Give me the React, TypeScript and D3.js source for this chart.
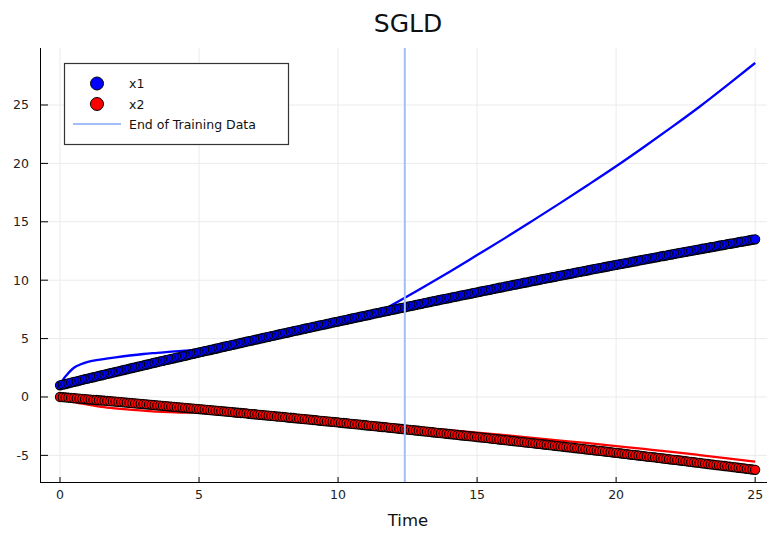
import React, { useRef, useEffect } from 'react';
import * as d3 from 'd3';

// observation times (scatter)
const obsTime = [
  0, 0.1, 0.2, 0.3, 0.4, 0.5, 0.6, 0.7, 0.8, 0.9,
  1, 1.1, 1.2, 1.3, 1.4, 1.5, 1.6, 1.7, 1.8, 1.9,
  2, 2.1, 2.2, 2.3, 2.4, 2.5, 2.6, 2.7, 2.8, 2.9,
  3, 3.1, 3.2, 3.3, 3.4, 3.5, 3.6, 3.7, 3.8, 3.9,
  4, 4.1, 4.2, 4.3, 4.4, 4.5, 4.6, 4.7, 4.8, 4.9,
  5, 5.1, 5.2, 5.3, 5.4, 5.5, 5.6, 5.7, 5.8, 5.9,
  6, 6.1, 6.2, 6.3, 6.4, 6.5, 6.6, 6.7, 6.8, 6.9,
  7, 7.1, 7.2, 7.3, 7.4, 7.5, 7.6, 7.7, 7.8, 7.9,
  8, 8.1, 8.2, 8.3, 8.4, 8.5, 8.6, 8.7, 8.8, 8.9,
  9, 9.1, 9.2, 9.3, 9.4, 9.5, 9.6, 9.7, 9.8, 9.9,
  10, 10.1, 10.2, 10.3, 10.4, 10.5, 10.6, 10.7, 10.8, 10.9,
  11, 11.1, 11.2, 11.3, 11.4, 11.5, 11.6, 11.7, 11.8, 11.9,
  12, 12.1, 12.2, 12.3, 12.4, 12.5, 12.6, 12.7, 12.8, 12.9,
  13, 13.1, 13.2, 13.3, 13.4, 13.5, 13.6, 13.7, 13.8, 13.9,
  14, 14.1, 14.2, 14.3, 14.4, 14.5, 14.6, 14.7, 14.8, 14.9,
  15, 15.1, 15.2, 15.3, 15.4, 15.5, 15.6, 15.7, 15.8, 15.9,
  16, 16.1, 16.2, 16.3, 16.4, 16.5, 16.6, 16.7, 16.8, 16.9,
  17, 17.1, 17.2, 17.3, 17.4, 17.5, 17.6, 17.7, 17.8, 17.9,
  18, 18.1, 18.2, 18.3, 18.4, 18.5, 18.6, 18.7, 18.8, 18.9,
  19, 19.1, 19.2, 19.3, 19.4, 19.5, 19.6, 19.7, 19.8, 19.9,
  20, 20.1, 20.2, 20.3, 20.4, 20.5, 20.6, 20.7, 20.8, 20.9,
  21, 21.1, 21.2, 21.3, 21.4, 21.5, 21.6, 21.7, 21.8, 21.9,
  22, 22.1, 22.2, 22.3, 22.4, 22.5, 22.6, 22.7, 22.8, 22.9,
  23, 23.1, 23.2, 23.3, 23.4, 23.5, 23.6, 23.7, 23.8, 23.9,
  24, 24.1, 24.2, 24.3, 24.4, 24.5, 24.6, 24.7, 24.8, 24.9,
  25
];

const obsX1 = [
  1.00, 1.06, 1.11, 1.17, 1.23, 1.29, 1.34, 1.40, 1.46, 1.52,
  1.57, 1.63, 1.69, 1.74, 1.80, 1.86, 1.91, 1.97, 2.03, 2.08,
  2.14, 2.20, 2.25, 2.31, 2.37, 2.42, 2.48, 2.53, 2.59, 2.65,
  2.70, 2.76, 2.81, 2.87, 2.93, 2.98, 3.04, 3.09, 3.15, 3.20,
  3.26, 3.31, 3.37, 3.42, 3.48, 3.53, 3.59, 3.64, 3.70, 3.75,
  3.81, 3.86, 3.92, 3.97, 4.02, 4.08, 4.13, 4.19, 4.24, 4.30,
  4.35, 4.40, 4.46, 4.51, 4.56, 4.62, 4.67, 4.73, 4.78, 4.83,
  4.89, 4.94, 4.99, 5.05, 5.10, 5.15, 5.21, 5.26, 5.31, 5.37,
  5.42, 5.47, 5.52, 5.58, 5.63, 5.68, 5.73, 5.79, 5.84, 5.89,
  5.94, 6.00, 6.05, 6.10, 6.15, 6.20, 6.25, 6.31, 6.36, 6.41,
  6.46, 6.51, 6.56, 6.61, 6.67, 6.72, 6.77, 6.82, 6.87, 6.92,
  6.97, 7.02, 7.07, 7.13, 7.18, 7.23, 7.28, 7.33, 7.38, 7.43,
  7.48, 7.53, 7.58, 7.63, 7.68, 7.73, 7.78, 7.83, 7.88, 7.93,
  7.98, 8.03, 8.08, 8.13, 8.18, 8.23, 8.28, 8.33, 8.38, 8.42,
  8.47, 8.52, 8.57, 8.62, 8.67, 8.72, 8.77, 8.81, 8.86, 8.91,
  8.96, 9.01, 9.06, 9.11, 9.15, 9.20, 9.25, 9.30, 9.35, 9.39,
  9.44, 9.49, 9.54, 9.59, 9.63, 9.68, 9.73, 9.78, 9.82, 9.87,
  9.92, 9.97, 10.01, 10.06, 10.11, 10.15, 10.20, 10.25, 10.29, 10.34,
  10.39, 10.43, 10.48, 10.53, 10.57, 10.62, 10.67, 10.71, 10.76, 10.80,
  10.85, 10.90, 10.94, 10.99, 11.03, 11.08, 11.13, 11.17, 11.22, 11.26,
  11.31, 11.35, 11.40, 11.44, 11.49, 11.53, 11.58, 11.62, 11.67, 11.71,
  11.76, 11.80, 11.85, 11.89, 11.94, 11.98, 12.03, 12.07, 12.11, 12.16,
  12.20, 12.25, 12.29, 12.34, 12.38, 12.42, 12.47, 12.51, 12.55, 12.60,
  12.64, 12.69, 12.73, 12.77, 12.82, 12.86, 12.90, 12.95, 12.99, 13.03,
  13.08, 13.12, 13.16, 13.20, 13.25, 13.29, 13.33, 13.37, 13.42, 13.46,
  13.50
];

const obsX2 = [
  0, -0.02, -0.04, -0.06, -0.08, -0.10, -0.12, -0.14, -0.16, -0.18,
  -0.20, -0.22, -0.24, -0.26, -0.28, -0.30, -0.32, -0.34, -0.36, -0.38,
  -0.40, -0.42, -0.44, -0.46, -0.49, -0.51, -0.53, -0.55, -0.57, -0.59,
  -0.61, -0.63, -0.65, -0.67, -0.69, -0.72, -0.74, -0.76, -0.78, -0.80,
  -0.82, -0.84, -0.87, -0.89, -0.91, -0.93, -0.95, -0.97, -0.99, -1.02,
  -1.04, -1.06, -1.08, -1.10, -1.13, -1.15, -1.17, -1.19, -1.21, -1.24,
  -1.26, -1.28, -1.30, -1.33, -1.35, -1.37, -1.39, -1.41, -1.44, -1.46,
  -1.48, -1.51, -1.53, -1.55, -1.57, -1.60, -1.62, -1.64, -1.67, -1.69,
  -1.71, -1.73, -1.76, -1.78, -1.80, -1.83, -1.85, -1.87, -1.90, -1.92,
  -1.94, -1.97, -1.99, -2.02, -2.04, -2.06, -2.09, -2.11, -2.13, -2.16,
  -2.18, -2.21, -2.23, -2.25, -2.28, -2.30, -2.33, -2.35, -2.37, -2.40,
  -2.42, -2.45, -2.47, -2.50, -2.52, -2.55, -2.57, -2.59, -2.62, -2.64,
  -2.67, -2.69, -2.72, -2.74, -2.77, -2.79, -2.82, -2.84, -2.87, -2.89,
  -2.92, -2.94, -2.97, -2.99, -3.02, -3.05, -3.07, -3.10, -3.12, -3.15,
  -3.17, -3.20, -3.22, -3.25, -3.28, -3.30, -3.33, -3.35, -3.38, -3.40,
  -3.43, -3.46, -3.48, -3.51, -3.53, -3.56, -3.59, -3.61, -3.64, -3.67,
  -3.69, -3.72, -3.75, -3.77, -3.80, -3.83, -3.85, -3.88, -3.91, -3.93,
  -3.96, -3.99, -4.01, -4.04, -4.07, -4.09, -4.12, -4.15, -4.18, -4.20,
  -4.23, -4.26, -4.29, -4.31, -4.34, -4.37, -4.40, -4.42, -4.45, -4.48,
  -4.51, -4.53, -4.56, -4.59, -4.62, -4.64, -4.67, -4.70, -4.73, -4.76,
  -4.78, -4.81, -4.84, -4.87, -4.90, -4.93, -4.95, -4.98, -5.01, -5.04,
  -5.07, -5.10, -5.13, -5.15, -5.18, -5.21, -5.24, -5.27, -5.30, -5.33,
  -5.36, -5.38, -5.41, -5.44, -5.47, -5.50, -5.53, -5.56, -5.59, -5.62,
  -5.65, -5.68, -5.71, -5.74, -5.77, -5.80, -5.83, -5.85, -5.88, -5.91,
  -5.94, -5.97, -6.00, -6.03, -6.06, -6.09, -6.12, -6.15, -6.18, -6.21,
  -6.24
];

// SGLD prediction curves
const predTime = [0, 0.1, 0.25, 0.5, 0.75, 1, 1.5, 2, 2.5, 3, 3.5, 4, 4.5, 5, 6, 7, 8, 9, 10, 11, 11.5, 12, 13, 14, 15, 16, 17, 18, 19, 20, 21, 22, 23, 24, 25];
const predX1 = [1.0, 1.45, 1.9, 2.5, 2.8, 3.0, 3.22, 3.4, 3.55, 3.68, 3.78, 3.88, 3.96, 4.05, 4.4, 4.85, 5.35, 5.85, 6.4, 6.95, 7.3, 7.95, 9.3, 10.7, 12.15, 13.6, 15.1, 16.62, 18.17, 19.75, 21.4, 23.1, 24.85, 26.7, 28.6];
const predX2 = [0, -0.15, -0.3, -0.45, -0.55, -0.65, -0.85, -0.98, -1.08, -1.17, -1.25, -1.3, -1.34, -1.3, -1.45, -1.62, -1.8, -1.98, -2.15, -2.33, -2.42, -2.5, -2.65, -2.85, -3.05, -3.27, -3.5, -3.73, -3.96, -4.2, -4.45, -4.7, -4.97, -5.25, -5.54];

const trainEnd = 12.4;

const xTicks = [0, 5, 10, 15, 20, 25];
const yTicks = [-5, 0, 5, 10, 15, 20, 25];

const legendItems = ['x1', 'x2', 'End of Training Data'];

const W = 767;
const H = 533;
const FONT = 'DejaVu Sans, sans-serif';

export default function App() {
  const svgRef = useRef<SVGSVGElement>(null);

  useEffect(() => {
    if (!svgRef.current) return;
    const svg = d3.select(svgRef.current);
    svg.selectAll('*').remove();

    const left = 40, right = 776, top = 48, bottom = 482;

    const x = d3.scaleLinear().domain([-0.72, 25.75]).range([left, right]);
    const y = d3.scaleLinear().domain([-7.28, 29.88]).range([bottom, top]);

    svg.append('rect').attr('width', W).attr('height', H).attr('fill', 'white');

    // grid
    const grid = svg.append('g').attr('stroke', '#ebebeb').attr('stroke-width', 1);
    xTicks.forEach(t => {
      grid.append('line').attr('x1', x(t)).attr('x2', x(t)).attr('y1', top).attr('y2', bottom);
    });
    yTicks.forEach(t => {
      grid.append('line').attr('x1', left).attr('x2', right).attr('y1', y(t)).attr('y2', y(t));
    });

    // prediction lines (behind the data)
    const line = d3.line<number>()
      .x((_, i) => x(predTime[i]))
      .y(d => y(d))
      .curve(d3.curveMonotoneX);

    svg.append('path').datum(predX1)
      .attr('fill', 'none').attr('stroke', '#0000ff').attr('stroke-width', 2.3)
      .attr('d', line);
    svg.append('path').datum(predX2)
      .attr('fill', 'none').attr('stroke', '#ff0000').attr('stroke-width', 2.3)
      .attr('d', line);

    // observations
    const drawScatter = (vals: number[], color: string) => {
      svg.append('g').selectAll('circle')
        .data(vals)
        .enter()
        .append('circle')
        .attr('cx', (_, i) => x(obsTime[i]))
        .attr('cy', d => y(d))
        .attr('r', 4.6)
        .attr('fill', color)
        .attr('stroke', '#000')
        .attr('stroke-width', 1.1);
    };
    drawScatter(obsX1, '#0000ff');
    drawScatter(obsX2, '#ff0000');

    // end of training data
    svg.append('line')
      .attr('x1', x(trainEnd)).attr('x2', x(trainEnd))
      .attr('y1', top).attr('y2', bottom)
      .attr('stroke', '#a3bdf7').attr('stroke-width', 2);

    // axes
    const axes = svg.append('g').attr('stroke', '#000').attr('stroke-width', 1);
    axes.append('line').attr('x1', left + 0.5).attr('x2', left + 0.5).attr('y1', top).attr('y2', bottom);
    axes.append('line').attr('x1', left).attr('x2', right).attr('y1', bottom + 0.5).attr('y2', bottom + 0.5);
    xTicks.forEach(t => {
      axes.append('line').attr('x1', x(t)).attr('x2', x(t)).attr('y1', bottom).attr('y2', bottom - 5);
      svg.append('text')
        .attr('x', x(t)).attr('y', bottom + 17)
        .attr('text-anchor', 'middle')
        .attr('font-family', FONT).attr('font-size', 12.5)
        .attr('fill', '#222')
        .text(String(t));
    });
    yTicks.forEach(t => {
      axes.append('line').attr('x1', left).attr('x2', left + 8).attr('y1', y(t)).attr('y2', y(t));
      svg.append('text')
        .attr('x', 29).attr('y', y(t) + 4.5)
        .attr('text-anchor', 'end')
        .attr('font-family', FONT).attr('font-size', 12.5)
        .attr('fill', '#222')
        .text(String(t));
    });

    // labels
    svg.append('text')
      .attr('x', 408).attr('y', 32)
      .attr('text-anchor', 'middle')
      .attr('font-family', FONT).attr('font-size', 25)
      .attr('fill', '#111')
      .text('SGLD');
    svg.append('text')
      .attr('x', 408).attr('y', 526)
      .attr('text-anchor', 'middle')
      .attr('font-family', FONT).attr('font-size', 16.5)
      .attr('fill', '#111')
      .text('Time');

    // legend
    const lg = svg.append('g');
    lg.append('rect')
      .attr('x', 64.5).attr('y', 63.5).attr('width', 224).attr('height', 81)
      .attr('fill', 'white').attr('stroke', '#333').attr('stroke-width', 1.2);
    const rows = [83.5, 104, 124];
    lg.append('circle').attr('cx', 97).attr('cy', rows[0]).attr('r', 6.5)
      .attr('fill', '#0000ff').attr('stroke', '#000').attr('stroke-width', 1);
    lg.append('circle').attr('cx', 97).attr('cy', rows[1]).attr('r', 6.5)
      .attr('fill', '#ff0000').attr('stroke', '#000').attr('stroke-width', 1);
    lg.append('line').attr('x1', 73).attr('x2', 121).attr('y1', rows[2]).attr('y2', rows[2])
      .attr('stroke', '#a3bdf7').attr('stroke-width', 2);
    legendItems.forEach((label, i) => {
      lg.append('text')
        .attr('x', 129).attr('y', rows[i] + 4.5)
        .attr('font-family', FONT).attr('font-size', 12.5)
        .attr('fill', '#111')
        .text(label);
    });
  }, []);

  return (
    <svg
      ref={svgRef}
      width={W}
      height={H}
      style={{ position: 'absolute', left: 0, top: 0 }}
    />
  );
}
